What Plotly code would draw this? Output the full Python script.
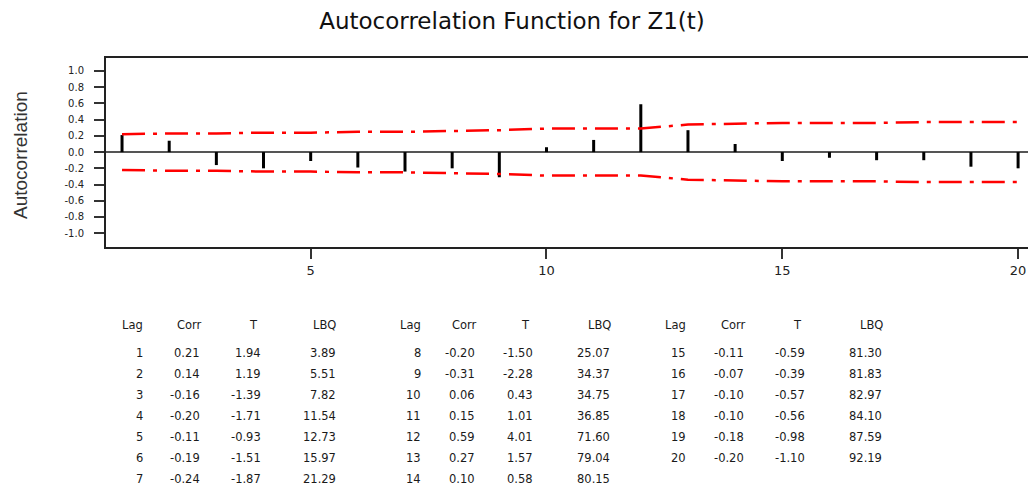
import plotly.graph_objects as go

# ---- data ----
lags = list(range(1, 21))
corr = [0.21, 0.14, -0.16, -0.20, -0.11, -0.19, -0.24, -0.20, -0.31, 0.06,
        0.15, 0.59, 0.27, 0.10, -0.11, -0.07, -0.10, -0.10, -0.18, -0.20]
tstat = [1.94, 1.19, -1.39, -1.71, -0.93, -1.51, -1.87, -1.50, -2.28, 0.43,
         1.01, 4.01, 1.57, 0.58, -0.59, -0.39, -0.57, -0.56, -0.98, -1.10]
lbq = [3.89, 5.51, 7.82, 11.54, 12.73, 15.97, 21.29, 25.07, 34.37, 34.75,
       36.85, 71.60, 79.04, 80.15, 81.30, 81.83, 82.97, 84.10, 87.59, 92.19]
limit = [0.22, 0.23, 0.23, 0.24, 0.24, 0.25, 0.25, 0.26, 0.27, 0.29,
         0.29, 0.29, 0.34, 0.35, 0.36, 0.36, 0.36, 0.37, 0.37, 0.37]
y_ticks = [1.0, 0.8, 0.6, 0.4, 0.2, 0.0, -0.2, -0.4, -0.6, -0.8, -1.0]
x_ticks = [5, 10, 15, 20]

W, H = 1028, 489
L, R, T, B = 106, 0, 58, 242
PW, PH = W - L - R, H - T - B


def px(x):
    return (x - L) / PW


def py(y):
    return (H - B - y) / PH


fig = go.Figure()

# spikes
bx, by = [], []
for k, r in zip(lags, corr):
    bx += [k, k, None]
    by += [0, r, None]
fig.add_trace(go.Scatter(x=bx, y=by, mode="lines",
                         line=dict(color="black", width=3), hoverinfo="skip"))

# confidence limits
dash = "23px,8px,4px,8px"
fig.add_trace(go.Scatter(x=lags, y=limit, mode="lines",
                         line=dict(color="#ff0000", width=2.5, dash=dash)))
fig.add_trace(go.Scatter(x=lags, y=[-v for v in limit], mode="lines",
                         line=dict(color="#ff0000", width=2.5, dash=dash)))

fig.update_layout(
    width=W, height=H,
    margin=dict(l=L, r=R, t=T, b=B),
    paper_bgcolor="white", plot_bgcolor="white",
    showlegend=False,
    title=dict(text="Autocorrelation Function for Z1(t)", x=512 / W, xref="container",
               xanchor="center", y=1 - 21 / H, yref="container", yanchor="middle",
               font=dict(family="DejaVu Sans", size=23, color="#111")),
)
fig.update_xaxes(range=[0.66, 20.21], tickvals=x_ticks, ticktext=[str(v) for v in x_ticks],
                 showgrid=False, zeroline=False, showline=True, linecolor="#222",
                 linewidth=2, mirror=True, ticks="outside", ticklen=10, tickwidth=1.5,
                 tickcolor="#333",
                 tickfont=dict(family="DejaVu Sans", size=13, color="#222"))
fig.update_yaxes(range=[-1.17, 1.16], tickvals=y_ticks,
                 ticktext=["%.1f" % v for v in y_ticks],
                 showgrid=False, zeroline=True, zerolinecolor="#555", zerolinewidth=1.5,
                 showline=True, linecolor="#222", linewidth=2, mirror=False,
                 ticks="outside", ticklen=10, tickwidth=1.5, tickcolor="#333",
                 ticklabelstandoff=8,
                 tickfont=dict(family="DejaVu Sans", size=10, color="#222"))

anns = []
anns.append(dict(text="Autocorrelation", x=px(20), y=py(155), xref="paper", yref="paper",
                 textangle=-90, showarrow=False, xanchor="center", yanchor="middle",
                 font=dict(family="Liberation Sans", size=19, color="#333")))

# statistics table
groups = [(0, 7), (7, 14), (14, 20)]
col_right = [[145, 202, 263, 338], [423, 477, 535, 612], [688, 746, 807, 884]]
hdr_right = [[145, 204, 260, 338], [423, 479, 532, 613], [688, 748, 804, 885]]
headers = ["Lag", "Corr", "T", "LBQ"]
row_y = [353, 374, 395, 416, 437, 458, 479]
tfont = dict(family="DejaVu Sans", size=11.5, color="#1a1a1a")
for g, (a, b) in enumerate(groups):
    for c, h in enumerate(headers):
        anns.append(dict(text=h, x=px(hdr_right[g][c]), y=py(325), xref="paper", yref="paper",
                         showarrow=False, xanchor="right", yanchor="middle", font=tfont))
    for i, idx in enumerate(range(a, b)):
        vals = [str(lags[idx]), "%.2f" % corr[idx], "%.2f" % tstat[idx], "%.2f" % lbq[idx]]
        for c, v in enumerate(vals):
            anns.append(dict(text=v, x=px(col_right[g][c]), y=py(row_y[i]), xref="paper",
                             yref="paper", showarrow=False, xanchor="right",
                             yanchor="middle", font=tfont))
fig.update_layout(annotations=anns)

fig.write_html("out.html")
